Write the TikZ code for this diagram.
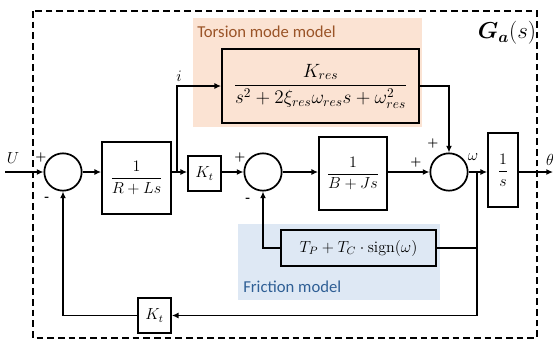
\documentclass[tikz,border=0pt]{standalone}
\usepackage{fontspec}
\usepackage{amsmath}
\newfontfamily\calib{Carlito}
\usetikzlibrary{arrows.meta}
\definecolor{torbg}{HTML}{FBE3D3}
\definecolor{tortx}{HTML}{9A5428}
\definecolor{frbg}{HTML}{DEE8F4}
\definecolor{frtx}{HTML}{2F5F95}
\tikzset{
  blk/.style={draw, line width=1.3pt, inner sep=0pt, font=\large},
  sumc/.style={draw, circle, line width=1.3pt, inner sep=0pt, minimum size=28pt},
  arr/.style={line width=1.2pt, -{Latex[length=5pt,width=4.5pt]}},
  ln/.style={line width=1.2pt},
  sgn/.style={font=\small\bfseries, inner sep=0pt},
  lbl/.style={inner sep=0pt, font=\large},
}
\begin{document}
\begin{tikzpicture}[x=0.75pt,y=-0.75pt]
\useasboundingbox (0,0) rectangle (553,340);
% backgrounds
\fill[torbg] (193,18) rectangle (422,127);
\fill[frbg] (238,224) rectangle (440,300);
% dashed frame
\draw[line width=1.2pt, dash pattern=on 5pt off 3pt] (33,11) rectangle (537,338);
\node[lbl, font=\LARGE] (ga) at (507,33) {$\boldsymbol{G_a}(s)$};
\node[inner sep=0pt, anchor=west, text=tortx, font=\calib\fontsize{12.5}{14}\selectfont] (tortitle) at (197,32) {Torsion mode model};
\node[inner sep=0pt, anchor=west, text=frtx, font=\calib\fontsize{12.5}{14}\selectfont] (frtitle) at (243,287) {Friction model};
% blocks
\node[sumc] (s1) at (63,172) {};
\node[blk, minimum width=51.75pt, minimum height=54pt] (b1) at (136.5,178) {$\dfrac{1}{R+Ls}$};
\node[blk, minimum width=24.75pt, minimum height=26.25pt] (kt1) at (204.5,173.5) {$K_t$};
\node[sumc] (s2) at (263,172) {};
\node[blk, minimum width=51pt, minimum height=54.75pt] (b2) at (353,173.5) {$\dfrac{1}{B+Js}$};
\node[sumc] (s3) at (449,172) {};
\node[blk, minimum width=22.5pt, minimum height=55.5pt] (b3) at (503,170) {$\dfrac{1}{s}$};
\node[blk, minimum width=147.75pt, minimum height=55.5pt, font=\fontsize{14.5}{17}\selectfont] (tor) at (320.5,86) {$\dfrac{K_{res}}{s^2+2\xi_{res}\omega_{res}s+\omega_{res}^2}$};
\node[blk, minimum width=116.25pt, minimum height=27pt] (fr) at (358.5,248) {$T_P+T_C\cdot\operatorname{sign}(\omega)$};
\node[blk, minimum width=24.75pt, minimum height=26.25pt] (kt2) at (154.5,315.5) {$K_t$};
% coordinates
\coordinate (in) at (5,172);
\coordinate (out) at (553,172);
\coordinate (bi) at (177,172);
\coordinate (bw) at (477,172);
% connectors
\draw[arr] (in) -- (s1.west);
\draw[arr] (s1.east) -- (s1 -| b1.west);
\draw[arr] (s1 -| b1.east) -- (s1 -| kt1.west);
\draw[arr] (bi) |- (tor.west);
\draw[arr] (s1 -| kt1.east) -- (s2.west);
\draw[arr] (s2.east) -- (s2 -| b2.west);
\draw[arr] (s2 -| b2.east) -- (s3.west);
\draw[arr] (tor.east) -| (s3.north);
\draw[arr] (s3.east) -- (s3 -| b3.west);
\draw[arr] (s3 -| b3.east) -- (out);
\draw[arr] (bw) |- (kt2.east);
\draw[ln] (fr.east -| bw) -- (fr.east);
\draw[arr] (fr.west) -| (s2.south);
\draw[arr] (kt2.west) -| (s1.south);
% labels
\node[lbl] (lu) at (13,158) {$U$};
\node[lbl] (li) at (179,76) {$i$};
\node[lbl] (lw) at (473,157) {$\omega$};
\node[lbl] (lth) at (550,160) {$\theta$};
\node[sgn] (p1) at (41,157) {+};
\node[sgn] (m1) at (47,199) {-};
\node[sgn] (p2) at (240,157) {+};
\node[sgn] (m2) at (248,200) {-};
\node[sgn] (p3) at (433,143) {+};
\node[sgn] (p4) at (416,162) {+};
\end{tikzpicture}
\end{document}
